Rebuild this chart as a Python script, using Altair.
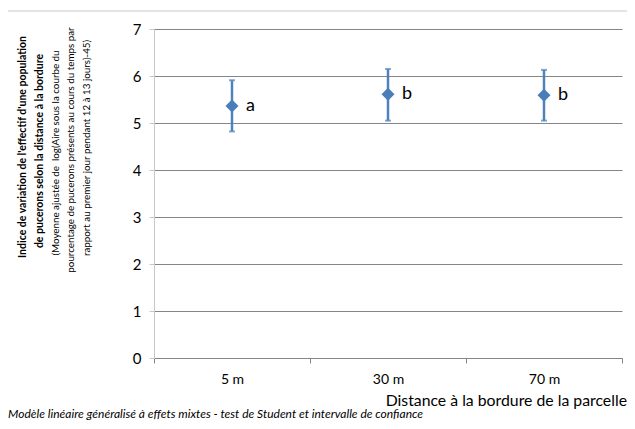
import altair as alt
import pandas as pd

# ---- data ----
categories = ["5 m", "30 m", "70 m"]
means = [5.36, 5.61, 5.59]
lower = [4.82, 5.05, 5.05]
upper = [5.91, 6.15, 6.13]
letters = ["a", "b", "b"]
y_ticks = [0, 1, 2, 3, 4, 5, 6, 7]

df = pd.DataFrame({"cat": categories, "mean": means, "lo": lower, "hi": upper, "letter": letters})

BLUE = "#4a7ebb"
BAR = "#4f81bd"
FONT = "Lato"
OX, OY = 154, 29  # plot origin on the page (used only to place annotations)

x_enc = alt.X(
    "cat:N", sort=categories,
    scale=alt.Scale(paddingInner=0, paddingOuter=0),
    axis=alt.Axis(title=None, labelAngle=0, tickBand="extent", tickSize=5,
                  tickColor="#868686", domainColor="#868686", labelFont=FONT,
                  labelFontSize=14, labelColor="#000", labelPadding=9, grid=False),
)
y_scale = alt.Scale(domain=[0, 7], nice=False)
y_axis = alt.Axis(title=None, values=y_ticks, grid=True, gridColor="#868686",
                  domainColor="#c8c8c8", tickColor="#c8c8c8", tickSize=5,
                  labelFont=FONT, labelFontSize=15, labelColor="#000", labelPadding=8)

base = alt.Chart(df)
bars = base.mark_rule(color=BAR, strokeWidth=2.5).encode(
    x=x_enc, y=alt.Y("lo:Q", scale=y_scale, axis=y_axis), y2="hi:Q")
cap_lo = base.mark_tick(color=BAR, size=6, thickness=2).encode(x=x_enc, y="lo:Q")
cap_hi = base.mark_tick(color=BAR, size=6, thickness=2).encode(x=x_enc, y="hi:Q")
points = base.mark_point(shape="diamond", filled=True, size=169, color=BLUE, opacity=1).encode(
    x=x_enc, y="mean:Q")
labels = base.mark_text(align="left", baseline="middle", dx=14, fontSize=18, font=FONT,
                        color="#000").encode(x=x_enc, y="mean:Q", text="letter:N")


def note(line, px, py, size, family=FONT, weight="normal", style="normal", angle=0,
         align="center", baseline="middle"):
    return alt.Chart(pd.DataFrame({"t": [line]})).mark_text(
        angle=angle, align=align, baseline=baseline, fontSize=size, font=family,
        fontWeight=weight, fontStyle=style, color="#000",
    ).encode(text="t:N", x=alt.value(px - OX), y=alt.value(py - OY))


top_rule = alt.Chart(pd.DataFrame({"t": [0]})).mark_rule(color="#c8c8c8", strokeWidth=1).encode(
    x=alt.value(8 - OX), x2=alt.value(627 - OX), y=alt.value(11 - OY))

texts = [
    note("Indice de variation de l'effectif d'une population", 26, 147, 10.5, FONT, "bold",
         angle=270, baseline="alphabetic"),
    note("de pucerons selon la distance à la bordure", 43, 151, 10.5, FONT, "bold",
         angle=270, baseline="alphabetic"),
    note("(Moyenne ajustée de\u00a0 log(Aire sous la courbe du", 59, 153, 9.8, FONT,
         angle=270, baseline="alphabetic"),
    note("pourcentage de pucerons présents au cours du temps par", 74, 150, 9.8, FONT,
         angle=270, baseline="alphabetic"),
    note("rapport au premier jour pendant 12 à 13 jours)-45)", 90, 148, 9.8, FONT,
         angle=270, baseline="alphabetic"),
    note("Distance à la bordure de la parcelle", 627, 401, 15.8, align="right"),
    note("Modèle linéaire généralisé à effets mixtes - test de Student et intervalle de confiance",
         8, 414, 12, style="italic", align="left"),
]

chart = alt.layer(top_rule, bars, cap_lo, cap_hi, points, labels, *texts).properties(
    width=468, height=329,
    padding={"left": 146, "top": 21, "right": 5, "bottom": 63},
    autosize=alt.AutoSizeParams(type="none"),
).configure_view(strokeWidth=0)

chart.save("out.html", embed_options={"renderer": "svg", "actions": False})
